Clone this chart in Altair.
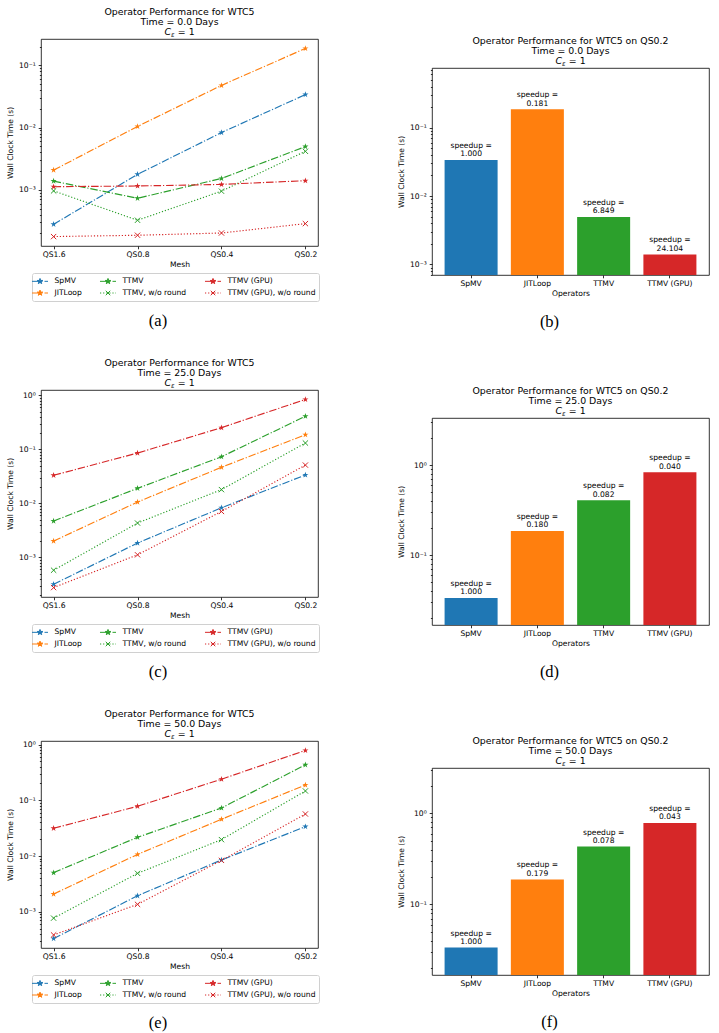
import math
import altair as alt
import pandas as pd

FONT = "DejaVu Sans"
SERIF = "Liberation Serif"
W, H = 277, 207
TITLE_FS = 9.4
LABEL_FS = 7.6

# ---------------- data ----------------
meshes = ["QS1.6", "QS0.8", "QS0.4", "QS0.2"]
series_names = ["SpMV", "JITLoop", "TTMV", "TTMV, w/o round", "TTMV (GPU)", "TTMV (GPU), w/o round"]
series_colors = ["#1f77b4", "#ff7f0e", "#2ca02c", "#2ca02c", "#d62728", "#d62728"]
star_series = ["SpMV", "JITLoop", "TTMV", "TTMV (GPU)"]
cross_series = ["TTMV, w/o round", "TTMV (GPU), w/o round"]

operators = ["SpMV", "JITLoop", "TTMV", "TTMV (GPU)"]
operator_colors = ["#1f77b4", "#ff7f0e", "#2ca02c", "#d62728"]

time_days = ["0.0", "25.0", "50.0"]
captions_line = ["(a)", "(c)", "(e)"]
captions_bar = ["(b)", "(d)", "(f)"]

# wall clock times (s) per mesh, one list per time snapshot
spmv_times = [
    [2.79e-4, 1.77e-3, 8.3e-3, 0.0338],
    [3.2e-4, 1.85e-3, 8.3e-3, 0.0336],
    [3.31e-4, 1.94e-3, 8.5e-3, 0.0337],
]
jitloop_times = [
    [2.07e-3, 1.04e-2, 0.0475, 0.1867],
    [2.01e-3, 1.06e-2, 0.0466, 0.1867],
    [2.08e-3, 1.07e-2, 0.0457, 0.1883],
]
ttmv_times = [
    [1.38e-3, 7.3e-4, 1.52e-3, 4.94e-3],
    [4.72e-3, 0.019, 0.073, 0.41],
    [5.04e-3, 0.0217, 0.0728, 0.432],
]
ttmv_noround_times = [
    [9.6e-4, 3.24e-4, 9.5e-4, 4.15e-3],
    [5.8e-4, 4.33e-3, 0.018, 0.131],
    [7.7e-4, 4.9e-3, 0.0197, 0.147],
]
gpu_times = [
    [1.12e-3, 1.15e-3, 1.22e-3, 1.40e-3],
    [0.0331, 0.0855, 0.252, 0.84],
    [0.0315, 0.078, 0.239, 0.784],
]
gpu_noround_times = [
    [1.77e-4, 1.86e-4, 2.02e-4, 2.86e-4],
    [2.77e-4, 1.12e-3, 7.1e-3, 0.0512],
    [3.85e-4, 1.36e-3, 8.36e-3, 0.0568],
]
speedup_labels = [
    ["1.000", "0.181", "6.849", "24.104"],
    ["1.000", "0.180", "0.082", "0.040"],
    ["1.000", "0.179", "0.078", "0.043"],
]

# ---------------- styles ----------------
def star_path(r, cx=0.0):
    pts = []
    for i in range(10):
        ang = math.radians(-90 + 36 * i)
        rad = r if i % 2 == 0 else r * 0.382
        pts.append((cx + rad * math.cos(ang), rad * math.sin(ang)))
    return "M" + "L".join(f"{x:.3f},{y:.3f}" for x, y in pts) + "Z"


def cross_path(r):
    return f"M{-r},{-r}L{r},{r}M{-r},{r}L{r},{-r}"


def segs(pairs):
    return "".join(f"M{a},0H{b}" for a, b in pairs)


STAR = star_path(1)
CROSS = cross_path(1)
DASHDOT_HANDLE = segs([(-1.78, -0.11), (0.31, 0.58), (1.0, 1.78)])
DOTTED_HANDLE = segs([(-1.78, -1.51), (-1.09, -0.82), (-0.4, -0.13), (0.29, 0.56), (0.98, 1.24), (1.66, 1.78)])
handle_paths = {
    s: (DOTTED_HANDLE + cross_path(0.5)) if s in cross_series else (DASHDOT_HANDLE + star_path(0.64))
    for s in series_names
}
color_of = dict(zip(series_names, series_colors))
dash_of = {s: ([1.2, 1.9] if s in cross_series else [7.5, 1.9, 1.2, 1.9]) for s in series_names}
# the mark scales list the series in reverse so that their (hidden) legends are not merged
# with the visible legend, which lists them in matplotlib's column order
mark_domain = list(reversed(series_names))

SUP = {1: "¹", 0: "⁰", -1: "⁻¹", -2: "⁻²", -3: "⁻³", -4: "⁻⁴"}


def log_values(d0, d1):
    vals = []
    for e in range(math.floor(math.log10(d0)), math.ceil(math.log10(d1)) + 1):
        for m in range(1, 10):
            v = float(f"{m}e{e}")
            if d0 <= v <= d1:
                vals.append(v)
    return vals


def log_axis(dom, title):
    e = "log(datum.value)/LN10"
    major = f"abs({e} - round({e})) < 1e-6"
    lab = " : ".join(f"round({e}) == {k} ? '10{v}'" for k, v in SUP.items()) + " : ''"
    return alt.Axis(
        title=title,
        values=log_values(dom[0], dom[1]),
        labelExpr=f"({major}) ? ({lab}) : ''",
        tickSize={"condition": {"test": major, "value": 2.8}, "value": 1.6},
        tickWidth=0.8,
        labelOverlap=False,
        labelFlush=False,
        labelPadding=3,
        titlePadding=4,
        grid=False,
        domain=False,
    )


one_row = pd.DataFrame({"k": [0]})


def text_layer(text, x, y, dx=0, size=TITLE_FS, align="center", font=FONT, style="normal", baseline="alphabetic"):
    return alt.Chart(one_row).mark_text(
        text=text, font=font, fontSize=size, align=align, baseline=baseline,
        fontStyle=style, color="black", dx=dx,
    ).encode(x=alt.value(x), y=alt.value(y))


def title_layers(line1, line2):
    cx = W / 2
    left = -15
    return [
        text_layer(line1, cx, -24),
        text_layer(line2, cx, -14.2),
        text_layer("C", cx, -4.2, dx=left, align="left", style="italic"),
        text_layer("ε", cx, -2.2, dx=left + 6.6, align="left", style="italic", size=6.6),
        text_layer("= 1", cx, -4.2, dx=left + 13.3, align="left"),
    ]


def spacer(h):
    # empty layout cell (no marks drawn) used only to shift a column down
    return alt.Chart(one_row).transform_filter("false").mark_point().properties(
        width=1, height=h, view=alt.ViewBackground(stroke="transparent")
    )


LEG = alt.Legend(
    title=None, orient="none", legendX=-9, legendY=234, columns=3,
    symbolSize=81, symbolStrokeWidth=1, symbolOpacity=1, labelFontSize=LABEL_FS, labelFont=FONT,
    labelColor="black", labelOffset=9.5, columnPadding=15, rowPadding=2, padding=3,
    strokeColor="#d0d0d0", fillColor="white", cornerRadius=2, labelLimit=0,
)


def line_panel(k):
    vals_by_series = [spmv_times[k], jitloop_times[k], ttmv_times[k],
                      ttmv_noround_times[k], gpu_times[k], gpu_noround_times[k]]
    rows = [{"mesh": m, "series": s, "time": v}
            for s, vals in zip(series_names, vals_by_series) for m, v in zip(meshes, vals)]
    df = pd.DataFrame(rows)
    allv = [v for vals in vals_by_series for v in vals]
    lo, hi = math.log10(min(allv)), math.log10(max(allv))
    pad = 0.05 * (hi - lo)
    dom = [10 ** (lo - pad), 10 ** (hi + pad)]

    x = alt.X("mesh:N", sort=meshes, scale=alt.Scale(type="point", padding=0.15),
              axis=alt.Axis(title="Mesh", labelAngle=0, tickSize=2.8, tickWidth=0.8,
                            labelPadding=2, titlePadding=2.5, grid=False, domain=False))
    y = alt.Y("time:Q", scale=alt.Scale(type="log", domain=dom, nice=False),
              axis=log_axis(dom, "Wall Clock Time (s)"))
    color = alt.Color("series:N", scale=alt.Scale(domain=mark_domain,
                      range=[color_of[s] for s in mark_domain]), legend=None)

    base = alt.Chart(df)
    lines = base.mark_line(strokeWidth=1.15).encode(
        x=x, y=y, color=color,
        strokeDash=alt.StrokeDash("series:N", scale=alt.Scale(domain=mark_domain,
                                  range=[dash_of[s] for s in mark_domain]), legend=None),
    )
    stars = base.transform_filter(
        alt.FieldOneOfPredicate(field="series", oneOf=star_series)
    ).mark_point(shape=STAR, filled=True, size=42, opacity=1).encode(x=x, y=y, color=color)
    crosses = base.transform_filter(
        alt.FieldOneOfPredicate(field="series", oneOf=cross_series)
    ).mark_point(shape=CROSS, filled=False, size=28, strokeWidth=1, opacity=1).encode(x=x, y=y, color=color)
    # legend-only layer: draws no marks, only supplies the legend entries
    legend_layer = alt.Chart(pd.DataFrame({"entry": series_names})).transform_filter("false").mark_point(
        opacity=1, strokeWidth=1
    ).encode(
        fill=alt.Fill("entry:N", scale=alt.Scale(domain=series_names,
                      range=[color_of[s] for s in series_names]), legend=LEG),
        stroke=alt.Stroke("entry:N", scale=alt.Scale(domain=series_names,
                          range=[color_of[s] for s in series_names]), legend=LEG),
        shape=alt.Shape("entry:N", scale=alt.Scale(domain=series_names,
                        range=[handle_paths[s] for s in series_names]), legend=LEG),
    )
    layers = [lines, stars, crosses, legend_layer]
    layers += title_layers("Operator Performance for WTC5", f"Time = {time_days[k]} Days")
    layers.append(text_layer(captions_line[k], 117, H + 80, size=16.5, font=SERIF))
    return alt.layer(*layers).properties(width=W, height=H)


def bar_panel(k):
    times = [spmv_times[k][-1], jitloop_times[k][-1], ttmv_times[k][-1], gpu_times[k][-1]]
    df = pd.DataFrame({
        "op": operators,
        "time": times,
        "label": [f"speedup =\n{s}" for s in speedup_labels[k]],
    })
    dom = [min(times) / 2, max(times) * 4]
    x = alt.X("op:N", sort=operators, scale=alt.Scale(paddingInner=0.2, paddingOuter=0.19),
              axis=alt.Axis(title="Operators", labelAngle=0, tickSize=2.8, tickWidth=0.8,
                            labelPadding=2, titlePadding=2.5, grid=False, domain=False))
    y = alt.Y("time:Q", scale=alt.Scale(type="log", domain=dom, nice=False),
              axis=log_axis(dom, "Wall Clock Time (s)"))
    base = alt.Chart(df)
    bars = base.mark_bar().encode(
        x=x, y=y, y2=alt.datum(dom[0]),
        color=alt.Color("op:N", scale=alt.Scale(domain=operators, range=operator_colors), legend=None),
    )
    labels = base.mark_text(baseline="bottom", dy=-10, lineBreak="\n", fontSize=LABEL_FS,
                            lineHeight=8.5, font=FONT, color="black").encode(x=x, y=y, text="label:N")
    layers = [bars, labels]
    layers += title_layers("Operator Performance for WTC5 on QS0.2", f"Time = {time_days[k]} Days")
    layers.append(text_layer(captions_bar[k], 117.5, H + 52, size=16.5, font=SERIF))
    return alt.layer(*layers).properties(width=W, height=H)


INDEP = dict(fill="independent", stroke="independent", shape="independent",
             color="independent", strokeDash="independent")

left_inner = alt.vconcat(*[line_panel(k) for k in range(3)], spacing=27).resolve_scale(**INDEP)
right_inner = alt.vconcat(*[bar_panel(k) for k in range(3)], spacing=54).resolve_scale(color="independent")
left_col = alt.vconcat(spacer(1), left_inner, spacing=0).resolve_scale(**INDEP)
right_col = alt.vconcat(spacer(30), right_inner, spacing=0).resolve_scale(color="independent")

chart = alt.hconcat(left_col, right_col, spacing=77).resolve_scale(**INDEP).properties(
    padding={"left": 6, "top": 3, "right": 0, "bottom": 0}
).configure_view(
    stroke="black", strokeWidth=0.8
).configure_axis(
    labelFont=FONT, titleFont=FONT, labelFontSize=LABEL_FS, titleFontSize=LABEL_FS,
    titleFontWeight="normal", labelColor="black", titleColor="black", tickColor="black",
).configure_text(font=FONT)

chart.save("out.html", embed_options={"renderer": "svg", "actions": False})
